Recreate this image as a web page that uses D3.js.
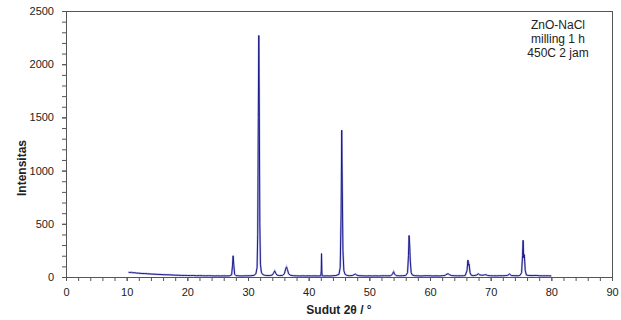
<!DOCTYPE html>
<html lang="id">
<head>
<meta charset="UTF-8">
<title>XRD ZnO-NaCl</title>
<script src="https://d3js.org/d3.v7.min.js"></script>
<style>
  body { margin: 0; background: #fff; }
  svg text { font-family: "Liberation Sans", Arial, sans-serif; fill: #222; }
</style>
</head>
<body>
<div id="chart"></div>
<script>
// 2theta (deg) and intensity
const angle = [
  10.3, 10.5, 10.8, 11.0, 11.3, 11.6, 12.0, 12.5, 13.0, 13.5, 14.0, 14.5, 15.0, 15.5, 16.0, 16.5,
  17.0, 17.5, 18.0, 18.5, 19.0, 19.5, 20.0, 20.5, 21.0, 21.5, 22.0, 22.5, 23.0, 23.5, 24.0, 24.5,
  25.0, 25.5, 26.0, 26.5, 27.0, 27.3, 27.45, 27.55, 27.65, 27.8, 28.0, 28.5, 29.0, 29.5, 30.0, 30.5,
  31.0, 31.3, 31.5, 31.6, 31.7, 31.78, 31.85, 31.95, 32.05, 32.2, 32.4, 32.7, 33.0, 33.5, 34.0, 34.2,
  34.4, 34.6, 34.8, 35.2, 35.7, 36.0, 36.2, 36.35, 36.5, 36.7, 37.0, 37.5, 38.0, 38.5, 39.0, 39.5,
  40.0, 40.5, 41.0, 41.5, 42.0, 42.08, 42.12, 42.18, 42.25, 42.5, 43.0, 43.5, 44.0, 44.5, 45.0, 45.2,
  45.35, 45.45, 45.55, 45.65, 45.8, 46.0, 46.3, 46.7, 47.2, 47.5, 47.7, 47.9, 48.3, 48.8, 49.5, 50.0,
  50.5, 51.0, 51.5, 52.0, 52.5, 53.0, 53.5, 53.8, 54.0, 54.15, 54.4, 55.0, 55.5, 56.0, 56.3, 56.45,
  56.55, 56.65, 56.75, 56.9, 57.1, 57.5, 58.0, 58.5, 59.0, 59.5, 60.0, 60.5, 61.0, 61.5, 62.0, 62.5,
  62.8, 63.0, 63.2, 63.5, 64.0, 64.5, 65.0, 65.5, 65.8, 66.1, 66.25, 66.35, 66.45, 66.6, 66.8, 67.2,
  67.7, 67.95, 68.2, 68.6, 69.0, 69.2, 69.5, 70.0, 70.5, 71.0, 71.5, 72.0, 72.5, 72.8, 73.1, 73.4,
  74.0, 74.5, 74.8, 75.1, 75.25, 75.35, 75.45, 75.55, 75.7, 75.9, 76.3, 77.0, 77.5, 78.0, 78.5, 79.0,
  79.5, 80.0
];
const counts = [
  45, 42, 44, 40, 41, 37, 36, 33, 32, 30, 28, 27, 25, 24, 22, 21,
  20, 19, 17, 17, 15, 15, 14, 13, 14, 12, 13, 12, 11, 12, 11, 10,
  11, 10, 11, 10, 12, 20, 110, 200, 120, 25, 13, 11, 10, 11, 11, 12,
  16, 30, 90, 400, 1500, 2270, 1700, 500, 120, 45, 25, 17, 14, 13, 18, 35,
  58, 32, 17, 13, 15, 30, 75, 95, 70, 30, 16, 12, 11, 10, 11, 10,
  11, 10, 11, 10, 11, 60, 220, 40, 11, 10, 11, 10, 12, 14, 25, 90,
  600, 1380, 800, 250, 60, 25, 15, 12, 14, 22, 28, 18, 12, 11, 10, 11,
  10, 11, 10, 11, 12, 11, 12, 25, 50, 28, 13, 11, 12, 14, 40, 200,
  390, 300, 150, 40, 18, 12, 11, 10, 11, 12, 11, 10, 11, 10, 12, 15,
  28, 30, 22, 14, 12, 11, 11, 12, 14, 60, 160, 110, 120, 40, 16, 13,
  18, 30, 20, 16, 20, 22, 14, 12, 11, 11, 12, 12, 13, 15, 28, 14,
  12, 12, 14, 40, 200, 345, 180, 210, 60, 18, 14, 13, 15, 12, 11, 11,
  12, 10
];

const xTicks = [0, 10, 20, 30, 40, 50, 60, 70, 80, 90];
const yTicks = [0, 500, 1000, 1500, 2000, 2500];
const noteLines = ["ZnO-NaCl", "milling 1 h", "450C 2 jam"];

const W = 621, H = 320;
const plotL = 66, plotR = 612, plotT = 11, plotB = 277;

const svg = d3.select("#chart").append("svg")
  .attr("width", W)
  .attr("height", H);

const x = d3.scaleLinear().domain([0, 90]).range([plotL, plotR]);
const y = d3.scaleLinear().domain([0, 2500]).range([plotB, plotT]);

// frame
svg.append("rect")
  .attr("x", plotL + 0.5)
  .attr("y", plotT + 0.5)
  .attr("width", plotR - plotL)
  .attr("height", plotB - plotT)
  .attr("fill", "none")
  .attr("stroke", "#555");

// minor ticks
svg.append("g")
  .attr("transform", `translate(0,${plotB})`)
  .call(d3.axisBottom(x).tickValues(d3.range(0, 91, 2)).tickSize(4).tickFormat(""))
  .call(g => g.select(".domain").remove())
  .selectAll("line").attr("stroke", "#555");

svg.append("g")
  .attr("transform", `translate(${plotL},0)`)
  .call(d3.axisLeft(y).tickValues(d3.range(0, 2501, 100)).tickSize(4).tickFormat(""))
  .call(g => g.select(".domain").remove())
  .selectAll("line").attr("stroke", "#555");

// labelled axes
const xAxis = svg.append("g")
  .attr("transform", `translate(0,${plotB})`)
  .call(d3.axisBottom(x).tickValues(xTicks).tickSize(4).tickPadding(7).tickFormat(d3.format("d")));
xAxis.select(".domain").attr("stroke", "#555");
xAxis.selectAll("line").attr("stroke", "#555");
xAxis.selectAll("text").style("font-size", "11px").attr("fill", "#222");

const yAxis = svg.append("g")
  .attr("transform", `translate(${plotL},0)`)
  .call(d3.axisLeft(y).tickValues(yTicks).tickSize(4).tickPadding(8).tickFormat(d3.format("d")));
yAxis.select(".domain").attr("stroke", "#555");
yAxis.selectAll("line").attr("stroke", "#555");
yAxis.selectAll("text").style("font-size", "11px").attr("fill", "#222");

// pattern
const pts = angle.map((a, i) => [a, counts[i]]);
const line = d3.line().x(d => x(d[0])).y(d => y(d[1]));

svg.append("path")
  .datum(pts)
  .attr("fill", "none")
  .attr("stroke", "#8f8fd8")
  .attr("stroke-width", 2)
  .attr("stroke-opacity", 0.6)
  .attr("d", line);

svg.append("path")
  .datum(pts)
  .attr("fill", "none")
  .attr("stroke", "#1a1a8a")
  .attr("stroke-width", 1)
  .attr("d", line);

// axis titles
svg.append("text")
  .attr("x", (plotL + plotR) / 2)
  .attr("y", 314)
  .attr("text-anchor", "middle")
  .style("font-size", "12px")
  .style("font-weight", "bold")
  .text("Sudut 2θ / °");

svg.append("text")
  .attr("transform", "translate(26,168) rotate(-90)")
  .attr("text-anchor", "middle")
  .style("font-size", "12px")
  .style("font-weight", "bold")
  .text("Intensitas");

// sample note
svg.append("g").selectAll("text")
  .data(noteLines)
  .enter()
  .append("text")
  .attr("x", 558)
  .attr("y", (d, i) => 29 + i * 14)
  .attr("text-anchor", "middle")
  .style("font-size", "12px")
  .text(d => d);
</script>
</body>
</html>
